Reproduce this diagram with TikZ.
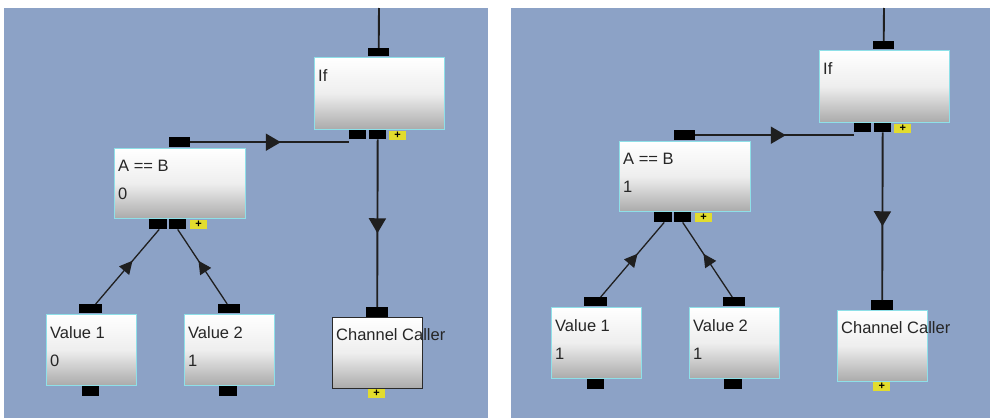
\documentclass[tikz,border=0pt]{standalone}
\usepackage{fontspec}
\setmainfont{Liberation Sans}
\usetikzlibrary{arrows.meta,decorations.markings}
\definecolor{panelbg}{HTML}{8CA2C6}
\definecolor{boxedge}{HTML}{8EE0E8}
\definecolor{boxgray}{HTML}{AAAAAA}
\definecolor{plusyel}{HTML}{E2DC2E}
\definecolor{darkedge}{HTML}{2A2A2A}
\tikzset{
  block/.style={rectangle, anchor=north west, inner sep=0pt, line width=1.2pt,
    draw=boxedge, top color=white, bottom color=boxgray, middle color=white!80!boxgray},
  port/.style={rectangle, anchor=north west, inner sep=0pt, fill=black},
  plusbox/.style={rectangle, anchor=north west, inner sep=0pt, fill=plusyel,
    minimum width=17pt, minimum height=9pt, font=\fontsize{11}{9}\selectfont\bfseries},
  lbl/.style={anchor=west, inner sep=0pt, font=\fontsize{16.5}{17}\selectfont, text=black!85},
  thick link/.style={line width=1.9pt, draw=black!88},
  thin link/.style={line width=1.3pt, draw=black!88},
  midarrow/.style={postaction={decorate}, decoration={markings,
    mark=at position #1 with {\arrow{Triangle[length=15pt,width=17pt]}}}},
  smallarrow/.style={postaction={decorate}, decoration={markings,
    mark=at position #1 with {\arrow{Triangle[length=13pt,width=13pt]}}}},
}
\newcommand\drawpanel[6]{%
  % #1 prefix, #2 A==B value, #3 value1, #4 value2, #5 channel caller border, #6 top y
  % If block
  \node[block, minimum width=130pt, minimum height=72pt] (#1if) at (314,-57) {};
  \node[port, minimum width=21pt, minimum height=8pt] (#1iftop) at (368,-48) {};
  \node[port, minimum width=17pt, minimum height=9pt] (#1ifp1) at (349,-130) {};
  \node[port, minimum width=17pt, minimum height=9pt] (#1ifp2) at (369,-130) {};
  \node[plusbox] (#1ifplus) at (389,-131) {+};
  \node[lbl] (#1iftxt) at (318,-76) {If};
  \coordinate (#1topend) at (379,#6);
  % A == B block
  \node[block, minimum width=131pt, minimum height=70pt] (#1ab) at (114,-148) {};
  \node[port, minimum width=21pt, minimum height=10pt] (#1abtop) at (169,-137) {};
  \node[port, minimum width=18pt, minimum height=10pt] (#1abp1) at (149,-219) {};
  \node[port, minimum width=17pt, minimum height=10pt] (#1abp2) at (169,-219) {};
  \node[plusbox] (#1abplus) at (190,-220) {+};
  \node[lbl] (#1abtxt) at (118,-166) {A == B};
  \node[lbl] (#1abval) at (118,-194) {#2};
  % Value 1
  \node[block, minimum width=90pt, minimum height=71pt] (#1v1) at (46,-314) {};
  \node[port, minimum width=23pt, minimum height=9pt] (#1v1top) at (79,-304) {};
  \node[port, minimum width=17pt, minimum height=10pt] (#1v1bot) at (82,-386) {};
  \node[lbl] (#1v1txt) at (50,-333) {Value 1};
  \node[lbl] (#1v1val) at (50,-361) {#3};
  % Value 2
  \node[block, minimum width=90pt, minimum height=71pt] (#1v2) at (184,-314) {};
  \node[port, minimum width=22pt, minimum height=9pt] (#1v2top) at (218,-304) {};
  \node[port, minimum width=18pt, minimum height=10pt] (#1v2bot) at (219,-386) {};
  \node[lbl] (#1v2txt) at (188,-333) {Value 2};
  \node[lbl] (#1v2val) at (188,-361) {#4};
  % Channel Caller
  \node[block, draw=#5, minimum width=90pt, minimum height=71pt] (#1cc) at (332,-317) {};
  \node[port, minimum width=22pt, minimum height=10pt] (#1cctop) at (366,-307) {};
  \node[plusbox] (#1ccplus) at (368,-389) {+};
  \node[lbl] (#1cctxt) at (336,-335) {Channel Caller};
  % connectors
  \draw[thick link] (#1topend) -- (#1iftop.north);
  \draw[thick link, midarrow=0.57] (#1abtop.east) -- (#1ifp1.west |- #1abtop.east);
  \draw[thick link, midarrow=0.56] (#1ifp2.south) -- (#1cctop.north);
  \draw[thin link, smallarrow=0.58] ([xshift=5pt]#1v1top.north) -- ([xshift=1pt]#1abp1.south);
  \draw[thin link, smallarrow=0.58] ([xshift=-2pt]#1v2top.north) -- (#1abp2.south);
}
\begin{document}
\begin{tikzpicture}[x=1pt,y=1pt]
  \useasboundingbox (0,0) rectangle (990,-418);
  \fill[white] (0,0) rectangle (990,-418);
  \fill[panelbg] (4,-8) rectangle (488,-418);
  \fill[panelbg] (511,-8) rectangle (990,-418);
  \drawpanel{L}{0}{0}{1}{darkedge}{-8}
  \begin{scope}[shift={(505,7)}]
    \drawpanel{R}{1}{1}{1}{boxedge}{-15}
  \end{scope}
\end{tikzpicture}
\end{document}
